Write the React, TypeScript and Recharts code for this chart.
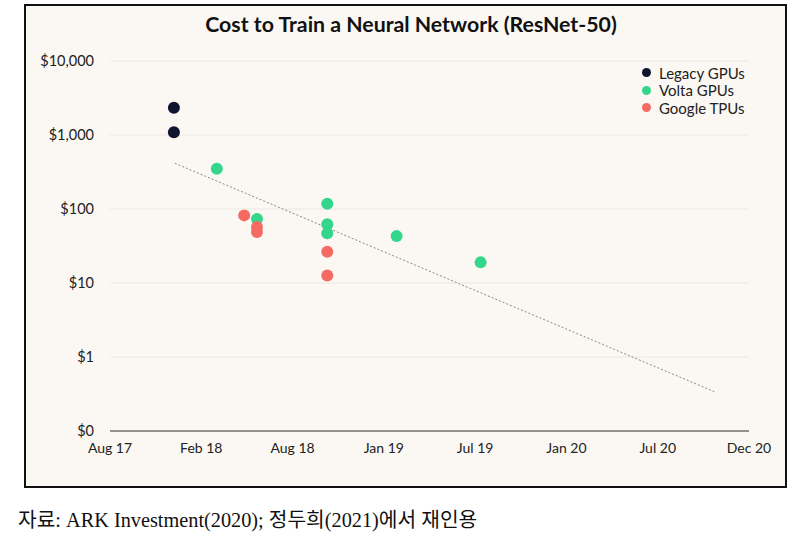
import React from "react";
import { ScatterChart, Scatter, XAxis, YAxis, CartesianGrid } from "recharts";

// x is measured in tick steps (0 = Aug 17 ... 7 = Dec 20), y is cost in USD
const xTicks = ["Aug 17", "Feb 18", "Aug 18", "Jan 19", "Jul 19", "Jan 20", "Jul 20", "Dec 20"];
const yTicks = [0.1, 1, 10, 100, 1000, 10000];
const yLabels = ["$0", "$1", "$10", "$100", "$1,000", "$10,000"];

const legacyGpus = [
  { x: 0.7, y: 2340 },
  { x: 0.7, y: 1090 },
];
const voltaGpus = [
  { x: 1.17, y: 350 },
  { x: 1.61, y: 73 },
  { x: 2.38, y: 118 },
  { x: 2.38, y: 62 },
  { x: 2.38, y: 47 },
  { x: 3.14, y: 43 },
  { x: 4.06, y: 19 },
];
const googleTpus = [
  { x: 1.47, y: 82 },
  { x: 1.61, y: 57 },
  { x: 1.61, y: 49 },
  { x: 2.38, y: 26.5 },
  { x: 2.38, y: 12.6 },
];
const trend = [
  { x: 0.71, y: 415 },
  { x: 6.62, y: 0.34 },
];

const series = [
  { name: "Legacy GPUs", color: "#10142f", data: legacyGpus },
  { name: "Volta GPUs", color: "#33d68b", data: voltaGpus },
  { name: "Google TPUs", color: "#f46b63", data: googleTpus },
];

const FONT = "Lato, 'Open Sans', sans-serif";

const Dot = (props: any) => <circle cx={props.cx} cy={props.cy} r={6} fill={props.fill} />;

export default function App() {
  return (
    <div style={{ position: "absolute", left: 0, top: 0, width: 795, height: 546, background: "#fff" }}>
      <div
        style={{
          position: "absolute", left: 24, top: 4, width: 759, height: 480,
          border: "2px solid #111", background: "#fbf8f4",
        }}
      />
      <div
        style={{
          position: "absolute", left: 161, width: 500, top: 11, textAlign: "center",
          fontFamily: FONT, fontWeight: 700, fontSize: 21.3, color: "#111",
        }}
      >
        Cost to Train a Neural Network (ResNet-50)
      </div>
      <div style={{ position: "absolute", left: 0, top: 0 }}>
        <ScatterChart width={795} height={546} margin={{ top: 61, right: 46, bottom: 85, left: 50 }}>
          <CartesianGrid vertical={false} stroke="#ebe6e1" />
          <XAxis
            type="number" dataKey="x" domain={[0, 7]} ticks={[0, 1, 2, 3, 4, 5, 6, 7]}
            tickFormatter={(v: number) => xTicks[v]} tickLine={false} tickMargin={6}
            axisLine={{ stroke: "#333" }} height={30}
            tick={{ fontFamily: FONT, fontSize: 14, fill: "#222" }}
          />
          <YAxis
            type="number" dataKey="y" scale="log" domain={[0.1, 10000]} ticks={yTicks}
            tickFormatter={(v: number) => yLabels[yTicks.indexOf(v)]} allowDataOverflow
            tickLine={false} axisLine={false} tickMargin={10} width={60}
            tick={{ fontFamily: FONT, fontSize: 14.5, fill: "#222" }}
          />
          <Scatter
            data={trend} line={{ stroke: "#888", strokeDasharray: "2 2", strokeWidth: 1 }}
            shape={() => null} legendType="none" isAnimationActive={false}
          />
          {series.map((s) => (
            <Scatter key={s.name} name={s.name} data={s.data} fill={s.color} shape={Dot} isAnimationActive={false} />
          ))}
        </ScatterChart>
      </div>
      <div style={{ position: "absolute", left: 642, top: 64, fontFamily: FONT, fontSize: 15, color: "#222" }}>
        {series.map((s) => (
          <div key={s.name} style={{ display: "flex", alignItems: "center", height: 17.5 }}>
            <span style={{ width: 9, height: 9, borderRadius: "50%", background: s.color, marginRight: 8 }} />
            {s.name}
          </div>
        ))}
      </div>
      <div
        style={{
          position: "absolute", left: 18, top: 503, fontSize: 20.3, color: "#111",
          fontFamily: "'Liberation Serif', 'Noto Sans CJK KR', serif", whiteSpace: "nowrap",
        }}
      >
        자료: ARK Investment(2020); 정두희(2021)에서 재인용
      </div>
    </div>
  );
}
